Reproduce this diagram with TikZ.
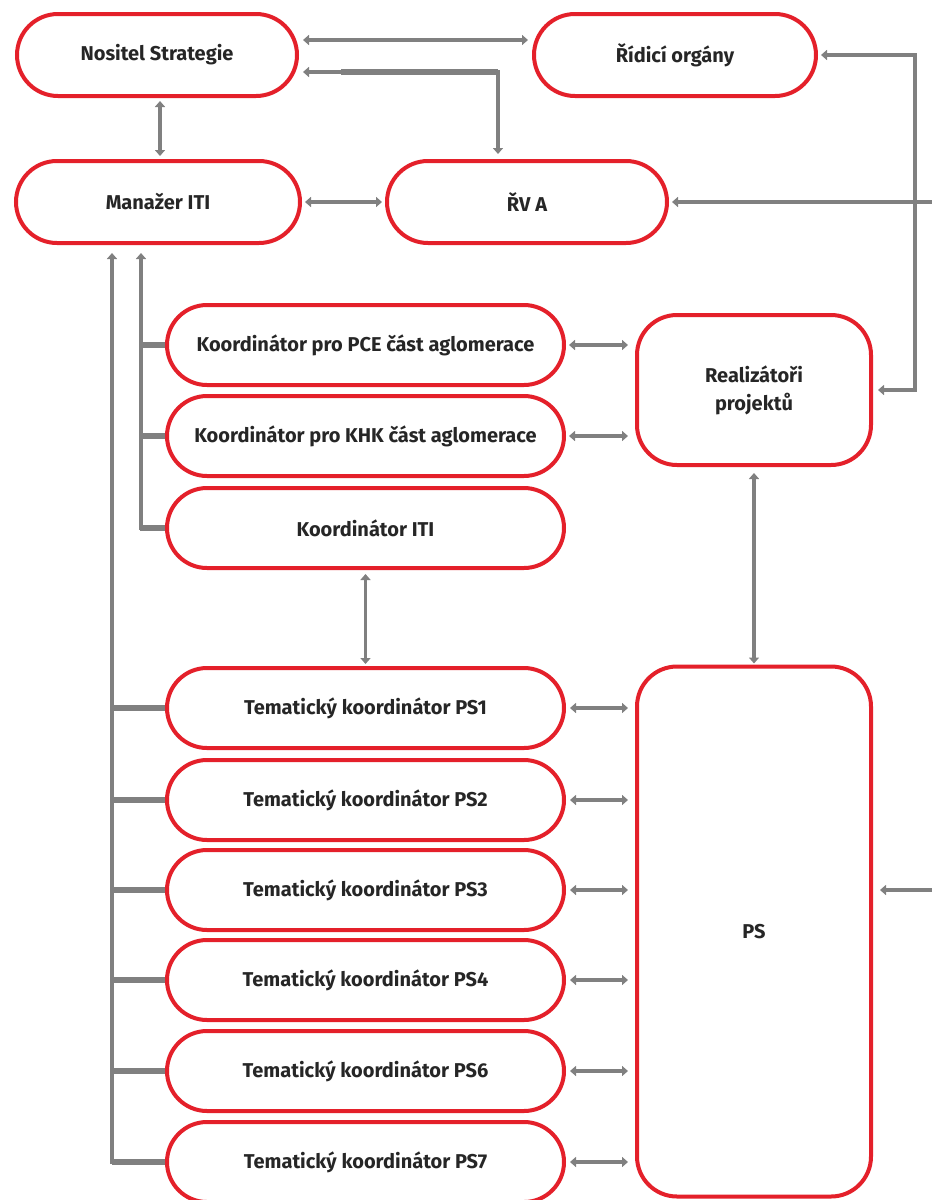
\documentclass[tikz,border=0pt]{standalone}
\usepackage{fontspec}
\setmainfont{Fira Sans}
\usetikzlibrary{shapes.misc,arrows.meta,calc}
\definecolor{bred}{HTML}{E4202A}
\definecolor{lgray}{HTML}{808080}
\definecolor{txt}{HTML}{262626}
\begin{document}
\begin{tikzpicture}[x=1pt,y=-1pt,
  >={Triangle[length=6pt,width=10pt]},
  basefont/.style={font=\bfseries\fontsize{20}{28}\selectfont},
  pill/.style={rounded rectangle, draw=bred, line width=4pt, fill=white,
    text=txt, basefont, inner sep=0pt},
  rbox/.style={rectangle, rounded corners=40pt, draw=bred, line width=4pt,
    fill=white, text=txt, basefont, align=center, inner sep=0pt},
  conn/.style={draw=lgray, line width=3.5pt},
  stub/.style={draw=lgray, line width=5.5pt}]
\clip (0,0) rectangle (932,1200);
\fill[white] (0,0) rectangle (932,1200);

% nodes
\node[pill, minimum width=280pt, minimum height=82pt] (nos) at (157,55) {Nositel Strategie};
\node[pill, minimum width=282pt, minimum height=82pt] (rid) at (675,55) {Řídicí orgány};
\node[pill, minimum width=284pt, minimum height=82pt] (man) at (158,202) {Manažer ITI};
\node[pill, minimum width=280pt, minimum height=82pt] (rva) at (527,202) {ŘV A};
\node[pill, minimum width=397pt, minimum height=80pt] (pce) at (365.5,345) {Koordinátor pro PCE část aglomerace};
\node[pill, minimum width=397pt, minimum height=80pt] (khk) at (365.5,436) {Koordinátor pro KHK část aglomerace};
\node[pill, minimum width=397pt, minimum height=80pt] (iti) at (365.5,528) {Koordinátor ITI};
\node[rbox, minimum width=234pt, minimum height=150pt] (real) at (754,390) {Realizátoři\\projektů};
\node[rbox, minimum width=234pt, minimum height=530pt] (ps) at (754,931.5) {PS};
\node[pill, minimum width=397pt, minimum height=80pt] (ps1) at (365.5,708) {Tematický koordinátor PS1};
\node[pill, minimum width=397pt, minimum height=80pt] (ps2) at (365.5,800) {Tematický koordinátor PS2};
\node[pill, minimum width=397pt, minimum height=80pt] (ps3) at (365.5,890) {Tematický koordinátor PS3};
\node[pill, minimum width=397pt, minimum height=80pt] (ps4) at (365.5,980) {Tematický koordinátor PS4};
\node[pill, minimum width=397pt, minimum height=80pt] (ps6) at (365.5,1071) {Tematický koordinátor PS6};
\node[pill, minimum width=397pt, minimum height=80pt] (ps7) at (365.5,1162) {Tematický koordinátor PS7};

% free ends at the right edge
\coordinate (e1) at (934,202);
\coordinate (e2) at (934,890);

% top connectors
\draw[conn,<->,shorten <=4pt,shorten >=4pt] (nos.east |- 0,40) -- (rid.west |- 0,40);
\draw[conn,<->,shorten <=4pt,shorten >=5pt] (nos.east |- 0,72) -| (498,0 |- rva.north);
\draw[stub] ($(nos.east |- 0,72)+(42,0)$) -- (498,72);
\draw[conn,<->,shorten <=3pt,shorten >=3pt] (nos.south -| 160,0) -- (man.north -| 160,0);
\draw[conn,<->,shorten <=3pt,shorten >=3pt] (man.east) -- (rva.west);

% right side
\draw[conn,<->,shorten <=5pt,shorten >=3pt] (real.east) -| (915,0 |- rid.east) -- (rid.east);
\draw[conn,->,shorten >=3pt] (e1) -- (rva.east);
\draw[conn,->,shorten >=7pt] (e2) -- (ps.east |- e2);

% left trunks
\draw[conn,->] (iti.west) -| ([xshift=-17pt,yshift=-8pt]man.south);
\draw[conn,->] (ps7.west) -| ([xshift=-46pt,yshift=-8pt]man.south);
\foreach \n in {pce,khk,iti}{
  \draw[stub] (\n.west) -- ++(-25,0);
}
\foreach \n in {ps1,ps2,ps3,ps4,ps6,ps7}{
  \draw[stub] (\n.west) -- ++(-53,0);
}

% middle connectors
\draw[conn,<->,shorten <=4pt,shorten >=2pt] (iti.south) -- (ps1.north);
\foreach \n in {pce,khk}{
  \draw[conn,<->,shorten <=3pt,shorten >=7pt] (\n.east) -- (real.west |- \n.east);
}
\draw[conn,<->,shorten <=6pt,shorten >=1pt] (real.south) -- (ps.north);
\foreach \n in {ps1,ps2,ps3,ps4,ps6,ps7}{
  \draw[conn,<->,shorten <=4pt,shorten >=7pt] (\n.east) -- (ps.west |- \n.east);
}
\end{tikzpicture}
\end{document}
